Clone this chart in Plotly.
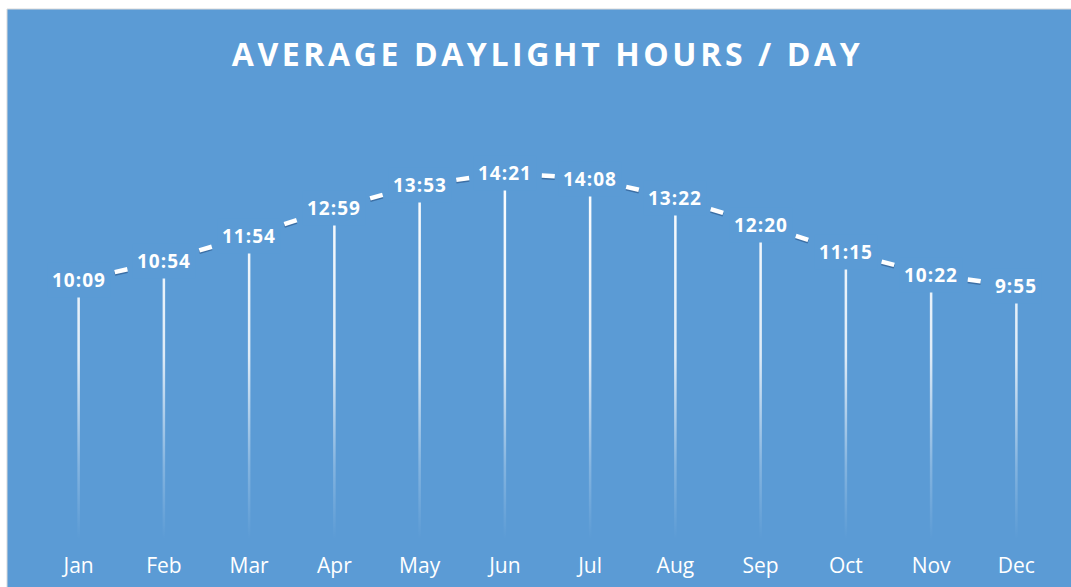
import plotly.graph_objects as go

# ---- data ----
months = ["Jan", "Feb", "Mar", "Apr", "May", "Jun", "Jul", "Aug", "Sep", "Oct", "Nov", "Dec"]
daylight_minutes = [609, 654, 714, 779, 833, 861, 848, 802, 740, 675, 622, 595]
daylight_labels = ["10:09", "10:54", "11:54", "12:59", "13:53", "14:21",
                   "14:08", "13:22", "12:20", "11:15", "10:22", "9:55"]
title_text = "AVERAGE DAYLIGHT HOURS / DAY"

# ---- style / layout ----
W, H = 1071, 587
ML, MR, MT, MB = 36, 12, 131, 48
PW, PH = W - ML - MR, H - MT - MB
BLUE = "#5B9BD5"
FONT = "Open Sans"
xs = list(range(len(months)))

# drop lines (thin filled polygons with vertical gradient)
half_w = 0.0147
px, py = [], []
for x, v in zip(xs, daylight_minutes):
    px += [x - half_w, x + half_w, x + half_w, x - half_w, x - half_w, None]
    py += [0, 0, v, v, 0, None]

drop = go.Scatter(
    x=px, y=py, mode="lines", fill="toself", line=dict(width=0),
    fillgradient=dict(type="vertical", colorscale=[
        [0, "rgba(255,255,255,0)"],
        [0.2, "rgba(255,255,255,0.25)"],
        [0.5, "rgba(255,255,255,0.8)"],
        [1, "rgba(255,255,255,1)"]]),
    hoverinfo="skip", showlegend=False)

# line segments (each segment its own sub-path so the dash restarts)
sx, sy, sy_sh = [], [], []
for i in range(len(xs) - 1):
    sx += [xs[i], xs[i + 1], None]
    sy += [daylight_minutes[i], daylight_minutes[i + 1], None]
    sy_sh += [daylight_minutes[i] - 4, daylight_minutes[i + 1] - 4, None]

dash = "0px,37px,13px,300px"
shadow = go.Scatter(x=sx, y=sy_sh, mode="lines",
                    line=dict(color="rgba(35,75,125,0.55)", width=4, dash=dash),
                    hoverinfo="skip", showlegend=False)
line = go.Scatter(x=sx, y=sy, mode="lines",
                  line=dict(color="white", width=4.5, dash=dash),
                  hoverinfo="skip", showlegend=False)

fig = go.Figure([drop, shadow, line])

annotations = []
for x, v, lab in zip(xs, daylight_minutes, daylight_labels):
    annotations.append(dict(
        x=x, y=v, xref="x", yref="y",
        text=f'<span style="letter-spacing:1px"><b>{lab}</b></span>',
        showarrow=False, font=dict(family=FONT, size=19, color="white"),
        bgcolor=BLUE, borderpad=4, xanchor="center", yanchor="middle"))

shapes = [dict(
    type="rect", xref="paper", yref="paper", layer="below",
    x0=(7 - ML) / PW, x1=(W + 5 - ML) / PW,
    y0=(H - MB - (H + 5)) / PH, y1=(H - MB - 9) / PH,
    fillcolor=BLUE, line=dict(color="#D9D9D9", width=1))]

fig.update_layout(
    width=W, height=H,
    margin=dict(l=ML, r=MR, t=MT, b=MB, autoexpand=False),
    paper_bgcolor="white", plot_bgcolor="rgba(0,0,0,0)",
    title=dict(
        text=f'<span style="letter-spacing:3.6px"><b>{title_text}</b></span>',
        font=dict(family=FONT, size=32, color="white"),
        x=0.5, xref="paper", xanchor="center",
        y=1 - 54.5 / H, yref="container", yanchor="middle"),
    xaxis=dict(range=[-0.5, 11.5], tickvals=xs, ticktext=months,
               showgrid=False, zeroline=False, showline=False, ticks="",
               tickfont=dict(family=FONT, size=21, color="white"),
               ticklabelstandoff=12, automargin=False, fixedrange=True),
    yaxis=dict(range=[0, 960], visible=False, automargin=False, fixedrange=True),
    annotations=annotations, shapes=shapes,
    showlegend=False)

fig.write_html(
    "out.html",
    config={"displayModeBar": False},
    post_script="document.body.style.margin='0';document.body.style.overflow='hidden';")
